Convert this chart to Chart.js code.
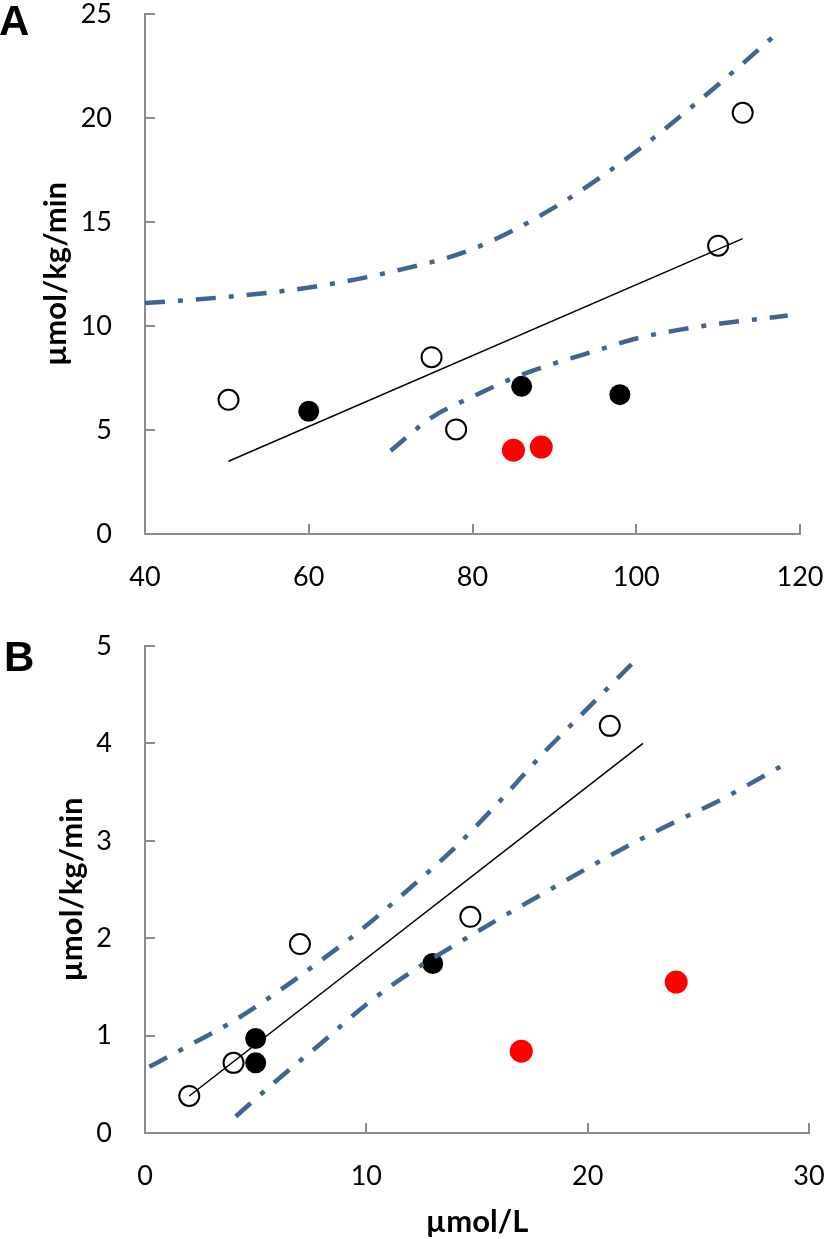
<!DOCTYPE html>
<html>
<head>
<meta charset="utf-8">
<script src="https://cdn.jsdelivr.net/npm/chart.js@4.4.1/dist/chart.umd.min.js"></script>
<style>
  html, body { margin: 0; padding: 0; background: #fff; }
  #wrap { position: relative; width: 826px; height: 1239px; overflow: hidden; }
  canvas { position: absolute; left: 0; }
  .panel { position: absolute; font-family: "Liberation Sans", Arial, sans-serif; font-weight: bold; font-size: 42px; line-height: 42px; color: #000; }
</style>
</head>
<body>
<div id="wrap">
  <canvas id="chartA" width="826" height="600" style="top:0"></canvas>
  <canvas id="chartB" width="826" height="639" style="top:600px"></canvas>
  <div class="panel" style="left:-1px; top:0px">A</div>
  <div class="panel" style="left:4px; top:636px">B</div>
</div>
<script>
/* panel A : x 40-120, y 0-25 */
const aOpenX = [50.2, 75, 78, 110, 113];
const aOpenY = [6.45, 8.5, 5.03, 13.86, 20.25];
const aFilledX = [60, 86, 98];
const aFilledY = [5.9, 7.1, 6.7];
const aRedX = [85, 88.4];
const aRedY = [4.03, 4.18];
const aFitX = [50.2, 113];
const aFitY = [3.5, 14.2];
const aUpperX = [40, 50, 60, 70, 80, 90, 100, 110, 117.3];
const aUpperY = [11.1, 11.4, 11.85, 12.6, 13.7, 15.7, 18.4, 21.6, 24.1];
const aLowerX = [70, 75, 80, 85, 90, 95, 100, 105, 110, 118.5];
const aLowerY = [4.0, 5.6, 6.6, 7.5, 8.2, 8.8, 9.4, 9.8, 10.1, 10.5];

/* panel B : x 0-30, y 0-5 */
const bOpenX = [2, 4, 7, 14.7, 21];
const bOpenY = [0.38, 0.72, 1.94, 2.22, 4.18];
const bFilledX = [5, 5, 13];
const bFilledY = [0.97, 0.72, 1.74];
const bRedX = [17, 24];
const bRedY = [0.84, 1.55];
const bFitX = [2, 22.5];
const bFitY = [0.38, 4.0];
const bUpperX = [0.2, 2, 4, 6, 8, 10, 12, 14, 16, 18, 20, 22.1];
const bUpperY = [0.68, 0.9, 1.15, 1.45, 1.78, 2.13, 2.52, 2.93, 3.4, 3.9, 4.36, 4.84];
const bLowerX = [4.1, 6, 8, 10, 12, 14, 16, 18, 20, 22, 24, 26, 28.7];
const bLowerY = [0.17, 0.55, 0.93, 1.32, 1.65, 1.93, 2.2, 2.46, 2.72, 2.97, 3.2, 3.42, 3.76];

const yTitle = "µmol/kg/min";
const xTitleB = "µmol/L";

const axisColor = "#8b8b8b";
const ciColor = "#416592";

Chart.defaults.font.family = "Lato";
Chart.defaults.color = "#000";

function pts(xs, ys) {
  return xs.map((x, i) => ({ x: x, y: ys[i] }));
}

/* short tick marks pointing into the plot */
const innerTicks = {
  id: "innerTicks",
  beforeDatasetsDraw(chart) {
    const { ctx, chartArea, scales } = chart;
    ctx.save();
    ctx.strokeStyle = axisColor;
    ctx.lineWidth = 2;
    ctx.beginPath();
    scales.x.ticks.forEach((t) => {
      const px = Math.round(scales.x.getPixelForValue(t.value));
      ctx.moveTo(px, chartArea.bottom);
      ctx.lineTo(px, chartArea.bottom - 10);
    });
    scales.y.ticks.forEach((t) => {
      const py = Math.round(scales.y.getPixelForValue(t.value));
      ctx.moveTo(chartArea.left, py);
      ctx.lineTo(chartArea.left + 10, py);
    });
    ctx.stroke();
    ctx.restore();
  },
};

function makeDatasets(d) {
  return [
    {
      data: pts(d.fitX, d.fitY), showLine: true, pointRadius: 0,
      borderColor: "#000", borderWidth: 1.5, order: 0,
    },
    {
      data: pts(d.upX, d.upY), showLine: true, pointRadius: 0,
      borderColor: ciColor, borderWidth: 4.5, borderDash: [20, 13, 5, 13],
      cubicInterpolationMode: "monotone", order: 0,
    },
    {
      data: pts(d.loX, d.loY), showLine: true, pointRadius: 0,
      borderColor: ciColor, borderWidth: 4.5, borderDash: [20, 13, 5, 13],
      cubicInterpolationMode: "monotone", order: 0,
    },
    {
      data: pts(d.openX, d.openY), pointRadius: 10, pointBorderWidth: 2,
      pointBorderColor: "#000", pointBackgroundColor: "rgba(255,255,255,0)", order: 1,
    },
    {
      data: pts(d.fillX, d.fillY), pointRadius: 10.5, pointBorderWidth: 0,
      pointBackgroundColor: "#000", order: 1,
    },
    {
      data: pts(d.redX, d.redY), pointRadius: 11.5, pointBorderWidth: 0,
      pointBackgroundColor: "#ff0000", order: 1,
    },
  ];
}

function makeChart(id, d, cfg) {
  return new Chart(document.getElementById(id).getContext("2d"), {
    type: "scatter",
    data: { datasets: makeDatasets(d) },
    options: {
      responsive: false,
      devicePixelRatio: 1,
      animation: false,
      layout: { padding: { left: 0, top: cfg.top, right: cfg.right, bottom: 0 } },
      plugins: { legend: { display: false }, tooltip: { enabled: false } },
      scales: {
        x: {
          type: "linear", min: cfg.xMin, max: cfg.xMax,
          grid: { display: false, drawTicks: false },
          border: { display: true, color: axisColor, width: 2 },
          ticks: { stepSize: cfg.xStep, autoSkip: false, padding: 27, font: { size: 27 } },
          title: {
            display: !!cfg.xTitle, text: cfg.xTitle || "",
            font: { size: 31, weight: "bold", lineHeight: 1 },
            padding: { top: 0, bottom: 2 },
          },
          afterFit(s) { s.height = cfg.xHeight; s.paddingLeft = 0; s.paddingRight = 0; },
        },
        y: {
          type: "linear", min: 0, max: cfg.yMax,
          grid: { display: false, drawTicks: false },
          border: { display: true, color: axisColor, width: 2 },
          ticks: { stepSize: cfg.yStep, autoSkip: false, padding: 33, font: { size: 27 } },
          title: {
            display: true, text: yTitle,
            font: { size: 31, weight: "bold", lineHeight: 1 },
            padding: { top: cfg.yTitlePad, bottom: 0 },
          },
          afterFit(s) { s.width = 145; s.paddingTop = 0; s.paddingBottom = 0; },
        },
      },
    },
    plugins: [innerTicks],
  });
}

makeChart("chartA", {
  openX: aOpenX, openY: aOpenY, fillX: aFilledX, fillY: aFilledY,
  redX: aRedX, redY: aRedY, fitX: aFitX, fitY: aFitY,
  upX: aUpperX, upY: aUpperY, loX: aLowerX, loY: aLowerY,
}, { top: 14, right: 26, xMin: 40, xMax: 120, xStep: 20, yMax: 25, yStep: 5, xHeight: 66, yTitlePad: 40 });

makeChart("chartB", {
  openX: bOpenX, openY: bOpenY, fillX: bFilledX, fillY: bFilledY,
  redX: bRedX, redY: bRedY, fitX: bFitX, fitY: bFitY,
  upX: bUpperX, upY: bUpperY, loX: bLowerX, loY: bLowerY,
}, { top: 46, right: 17, xMin: 0, xMax: 30, xStep: 10, yMax: 5, yStep: 1, xHeight: 106, yTitlePad: 56, xTitle: xTitleB });
</script>
</body>
</html>
